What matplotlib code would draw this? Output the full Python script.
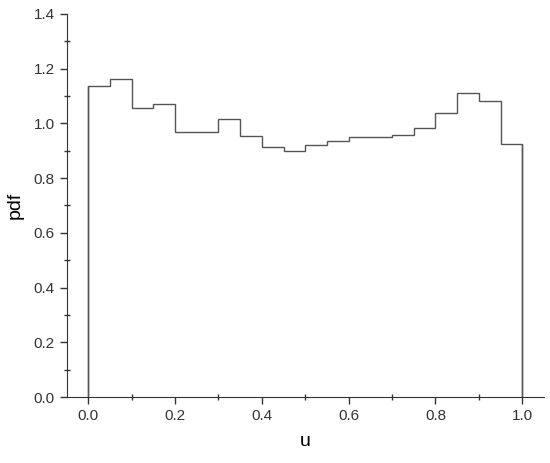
import matplotlib
matplotlib.use('Agg')
import matplotlib.pyplot as plt
import numpy as np

plt.rcParams['font.family'] = ['Liberation Sans', 'DejaVu Sans']

# 20 bins of width 0.05 on [0, 1]
edges = np.linspace(0, 1, 21)
pdf = [1.137, 1.163, 1.056, 1.072, 0.969, 0.969, 1.017, 0.954, 0.915, 0.899,
       0.922, 0.937, 0.949, 0.949, 0.958, 0.984, 1.039, 1.110, 1.082, 0.925]

fig = plt.figure(figsize=(5.5, 4.63), dpi=100)
ax = fig.add_axes([0.121, 0.1425, 0.868, 0.8275])

ax.stairs(pdf, edges, color='#555555', linewidth=1.0)
ax.vlines([edges[0]], 0, pdf[0], color='#555555', linewidth=1.0)
ax.vlines([edges[-1]], 0, pdf[-1], color='#555555', linewidth=1.0)

ax.set_xlim(-0.05, 1.05)
ax.set_ylim(0, 1.4)
ax.set_xticks(np.arange(0, 1.01, 0.2))
ax.set_xticks(np.arange(0.1, 1.0, 0.2), minor=True)
ax.set_yticks(np.arange(0, 1.41, 0.2))
ax.set_yticks(np.arange(0.1, 1.4, 0.2), minor=True)
ax.xaxis.set_major_formatter(plt.FormatStrFormatter('%.1f'))
ax.yaxis.set_major_formatter(plt.FormatStrFormatter('%.1f'))

ax.spines['top'].set_visible(False)
ax.spines['right'].set_visible(False)
for s in ('left', 'bottom'):
    ax.spines[s].set_color('#333333')
ax.tick_params(which='major', direction='out', length=5, width=1, labelsize=11,
               colors='#333333')
ax.tick_params(which='minor', direction='inout', length=4, width=1, colors='#333333')

ax.set_xlabel('u', fontsize=14, labelpad=7)
ax.set_ylabel('pdf', fontsize=14, labelpad=7)

fig.savefig('out.png', dpi=100)
